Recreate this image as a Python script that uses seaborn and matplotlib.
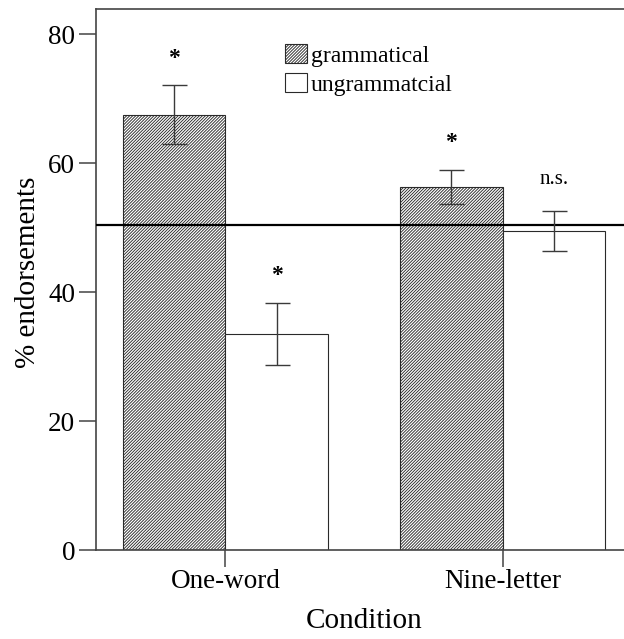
import matplotlib
matplotlib.use("Agg")
import matplotlib.pyplot as plt
import seaborn as sns
import pandas as pd
from matplotlib.patches import Patch

conditions = ["One-word", "Nine-letter"]
types = ["grammatical", "ungrammatcial"]
gram_vals = [67.5, 56.3]
ungram_vals = [33.5, 49.5]
gram_err = [4.6, 2.7]
ungram_err = [4.8, 3.1]
gram_sig = ["*", "*"]
ungram_sig = ["*", "n.s."]
chance = 50.4
yticks = [0, 20, 40, 60, 80]

df = pd.DataFrame({
    "Condition": conditions * 2,
    "Type": [types[0]] * 2 + [types[1]] * 2,
    "pct": gram_vals + ungram_vals,
})
errs = [gram_err, ungram_err]
sigs = [gram_sig, ungram_sig]

sns.set_theme(style="white")
plt.rcParams["font.family"] = ["Liberation Serif", "DejaVu Serif"]
plt.rcParams["hatch.linewidth"] = 0.65
plt.rcParams["axes.edgecolor"] = "#444444"
plt.rcParams["text.color"] = "black"
plt.rcParams["axes.labelcolor"] = "black"

HATCH = "/" * 11

fig = plt.figure(figsize=(6.24, 6.39), dpi=100)
ax = fig.add_axes([96 / 624, 89 / 639, 536 / 624, 541 / 639])

sns.barplot(data=df, x="Condition", y="pct", hue="Type", order=conditions,
            hue_order=types, width=0.742, errorbar=None, legend=False,
            palette=["white", "white"], edgecolor="#2a2a2a", linewidth=0.8,
            saturation=1, ax=ax)

bar_containers = list(ax.containers)
for p in bar_containers[0]:
    p.set_hatch(HATCH)
    p.set_edgecolor("#2a2a2a")

ax.axhline(chance, color="black", lw=1.6, zorder=3)

for ci, cont in enumerate(bar_containers):
    for bi, bar in enumerate(cont):
        xc = bar.get_x() + bar.get_width() / 2
        h = bar.get_height()
        e = errs[ci][bi]
        ax.errorbar(xc, h, yerr=e, fmt="none", ecolor="#3a3a3a",
                    elinewidth=1.0, capsize=9, capthick=1.0, zorder=4)
        s = sigs[ci][bi]
        if s == "*":
            ax.text(xc, h + e + 4.2, s, ha="center", va="center",
                    fontsize=17, fontweight="bold", color="black")
        else:
            ax.text(xc, h + e + 4.8, s, ha="center", va="center",
                    fontsize=15, color="black")

ax.set_xlim(-0.467, 1.467)
ax.set_ylim(0, 83.9)
ax.set_yticks(yticks)
ax.set_yticklabels([str(v) for v in yticks])

for side in ["left", "bottom", "top"]:
    ax.spines[side].set_visible(True)
    ax.spines[side].set_color("#444444")
    ax.spines[side].set_linewidth(1.2)
ax.spines["right"].set_visible(False)

ax.tick_params(axis="y", direction="out", length=12, width=1.1,
               color="#444444", labelsize=19.5, pad=3, left=True,
               labelcolor="black")
ax.tick_params(axis="x", direction="out", length=12, width=1.1,
               color="#444444", labelsize=19.5, pad=1.5, bottom=True,
               labelcolor="black")

ax.set_xlabel("Condition", fontsize=21, color="black")
ax.set_ylabel("% endorsements", fontsize=21, color="black")
ax.xaxis.set_label_coords(0.5, -0.107)
ax.yaxis.set_label_coords(-0.1026, 0.513)

handles = [Patch(facecolor="white", edgecolor="#2a2a2a", hatch=HATCH, lw=0.8),
           Patch(facecolor="white", edgecolor="#2a2a2a", lw=0.8)]
leg = ax.legend(handles=handles, labels=types, loc="upper left",
                bbox_to_anchor=(285 / 624, 1 - 44 / 639),
                bbox_transform=fig.transFigure, frameon=False, fontsize=17,
                handlelength=0.93, handleheight=0.89, handletextpad=0.15,
                labelspacing=0.25, borderpad=0, borderaxespad=0)
for t in leg.get_texts():
    t.set_color("black")

fig.savefig("out.png", dpi=100)
